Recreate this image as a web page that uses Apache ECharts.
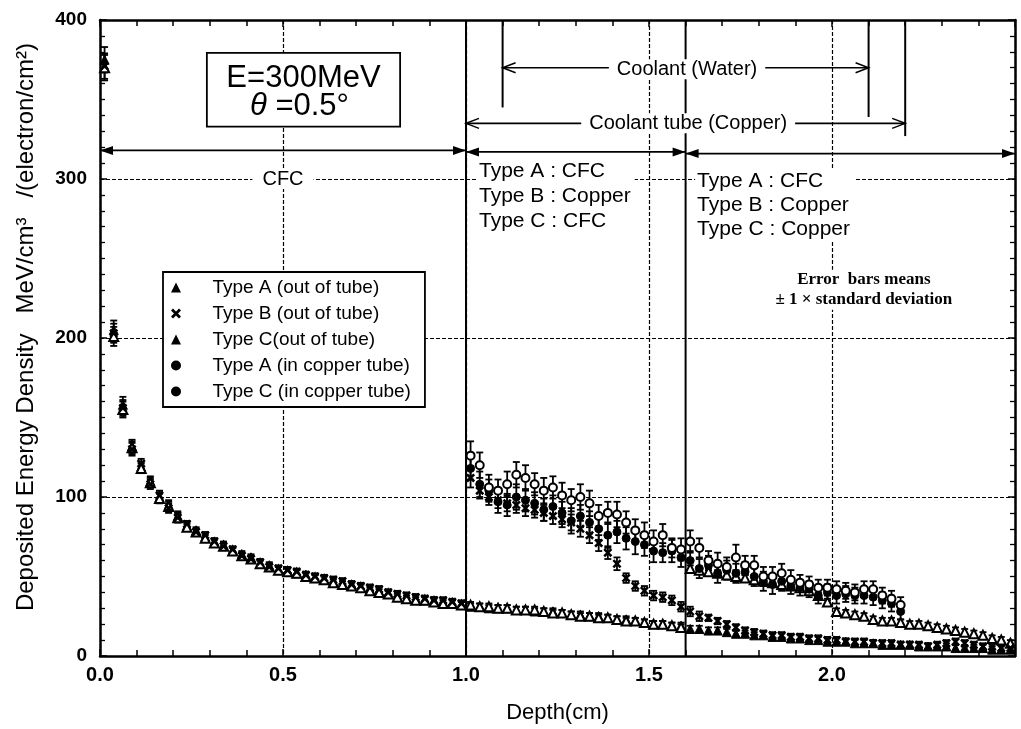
<!DOCTYPE html>
<html>
<head>
<meta charset="utf-8">
<script src="https://cdn.jsdelivr.net/npm/echarts@6/dist/echarts.min.js"></script>
<style>
html,body{margin:0;padding:0;background:#fff;}
#c{width:1021px;height:729px;}
</style>
</head>
<body>
<div id="c"></div>
<script>
// ---------- DATA ----------
const depth = [
0.0125,0.0375,0.0625,0.0875,0.1125,0.1375,0.1625,0.1875,0.2125,0.2375,
0.2625,0.2875,0.3125,0.3375,0.3625,0.3875,0.4125,0.4375,0.4625,0.4875,
0.5125,0.5375,0.5625,0.5875,0.6125,0.6375,0.6625,0.6875,0.7125,0.7375,
0.7625,0.7875,0.8125,0.8375,0.8625,0.8875,0.9125,0.9375,0.9625,0.9875,
1.0125,1.0375,1.0625,1.0875,1.1125,1.1375,1.1625,1.1875,1.2125,1.2375,
1.2625,1.2875,1.3125,1.3375,1.3625,1.3875,1.4125,1.4375,1.4625,1.4875,
1.5125,1.5375,1.5625,1.5875,1.6125,1.6375,1.6625,1.6875,1.7125,1.7375,
1.7625,1.7875,1.8125,1.8375,1.8625,1.8875,1.9125,1.9375,1.9625,1.9875,
2.0125,2.0375,2.0625,2.0875,2.1125,2.1375,2.1625,2.1875,2.2125,2.2375,
2.2625,2.2875,2.3125,2.3375,2.3625,2.3875,2.4125,2.4375,2.4625,2.4875];

const depthTube = [
1.0125,1.0375,1.0625,1.0875,1.1125,1.1375,1.1625,1.1875,1.2125,1.2375,
1.2625,1.2875,1.3125,1.3375,1.3625,1.3875,1.4125,1.4375,1.4625,1.4875,
1.5125,1.5375,1.5625,1.5875,1.6125,1.6375,1.6625,1.6875,1.7125,1.7375,
1.7625,1.7875,1.8125,1.8375,1.8625,1.8875,1.9125,1.9375,1.9625,1.9875,
2.0125,2.0375,2.0625,2.0875,2.1125,2.1375,2.1625,2.1875];

const typeAOut = [
375,205,158,132,119,110,100,95,88,82,
79,75,72,70,66,64,62,58,57,54,
53,52,51,49,48,47,46,45,43,42,
41,39,38,36,36,35,35,34,33,32,
31,31,30,30,30,29,29,28,28,28,
27,26,26,25,25,24,23,23,22,21,
20,20,19,19,17,17,16,16,15,14,
14,13,13,12,12,11,11,10,10,9,
9,9,8,8,8,7,7,7,7,6,
6,6,6,5,5,5,5,4,4,4];

const typeBOut = [
371,203,156,130,121,108,101,93,87,83,
78,76,72,69,67,63,61,59,56,55,
54,53,51,50,49,48,47,45,44,43,
42,40,39,38,37,36,35,35,34,33,
112,104,100,98,96,95,93,92,90,88,
86,84,80,76,71,65,58,49,44,41,
38,37,35,31,28,25,24,22,20,18,
16,15,14,13,13,12,12,11,11,10,
10,9,9,9,8,8,8,7,7,7,
6,7,8,9,8,7,6,6,5,5];

const typeCOut = [
370,201,155,131,118,109,99,94,87,81,
78,74,71,69,66,63,61,58,56,54,
53,52,50,49,48,46,45,44,43,41,
40,39,37,36,35,35,34,33,33,32,
32,31,31,30,30,29,29,29,28,27,
27,26,25,25,24,24,23,22,22,21,
20,20,19,18,55,54,53,52,51,50,
49,48,47,46,45,44,43,41,38,34,
28,27,26,25,23,22,22,21,20,20,
19,18,17,16,15,14,13,11,10,8];

const typeATube = [
118,108,104,97,95,100,98,96,92,94,
90,85,88,84,80,76,78,74,72,70,
66,65,66,62,60,55,57,52,54,52,
53,50,47,45,47,44,43,42,38,40,
38,39,38,38,37,35,33,28];

const typeCTube = [
126,120,106,104,108,114,112,108,104,106,
101,98,100,96,88,90,89,84,79,76,
72,76,68,67,72,68,60,58,56,62,
57,57,50,50,52,48,46,45,43,43,
42,41,40,42,42,38,36,32];

// error (±1 standard deviation)
const errOutCFC = [
8,6,5,4,3,3,3,3,3,2,
2,2,2,2,2,2,2,2,2,2,
2,2,2,2,2,2,2,2,2,2,
2,2,2,2,2,2,2,2,2,2,
2,2,2,2,2,2,2,2,2,2,
2,2,2,2,2,2,2,2,2,2,
2,2,2,2,2,2,2,2,2,2,
2,2,2,2,2,2,2,2,2,2,
2,2,2,2,2,2,2,2,2,2,
2,2,2,2,2,2,2,2,2,2];

const errBOut = [
8,6,5,4,3,3,3,3,3,2,
2,2,2,2,2,2,2,2,2,2,
2,2,2,2,2,2,2,2,2,2,
2,2,2,2,2,2,2,2,2,2,
6,5,5,5,5,5,5,5,5,5,
5,5,5,5,5,4,4,3,3,3,
3,3,3,3,3,3,2,2,2,2,
2,2,2,2,2,2,2,2,2,2,
2,2,2,2,2,2,2,2,2,2,
2,2,2,2,2,2,2,2,2,2];

const errATube = [
7,8,7,7,7,8,7,7,7,7,
7,8,7,7,7,8,7,7,8,7,
7,6,7,6,6,6,6,6,6,6,
6,6,6,6,6,5,5,5,5,5,
5,5,5,5,5,5,5,5];

const errCTube = [
9,8,8,7,8,8,8,7,8,7,
8,7,8,8,7,7,8,7,7,8,
7,7,6,7,7,6,6,7,6,8,
6,6,6,6,6,6,5,5,5,5,
5,5,5,5,5,5,5,5];

const seriesNames = ['Type A (out of tube)','Type B (out of tube)','Type C(out of tube)','Type A (in copper tube)','Type C (in copper tube)'];
const xTicks = [0, 0.5, 1.0, 1.5, 2.0];
const yTicks = [0, 100, 200, 300, 400];

// ---------- CHART ----------
const FONT = "'Liberation Sans', Arial, Helvetica, sans-serif";
const crossPath = 'path://M0,2 L2,0 L5,3 L8,0 L10,2 L7,5 L10,8 L8,10 L5,7 L2,10 L0,8 L3,5 Z';

function pts(xs, ys){ return xs.map((d,i)=>[d, ys[i]]); }
function errPts(xs, ys, es){ return xs.map((d,i)=>[d, ys[i], es[i]]); }

function errRender(params, api){
  const x = api.value(0), v = api.value(1), e = api.value(2);
  const t = api.coord([x, v + e]), b = api.coord([x, v - e]);
  const w = 3.5, st = {stroke:'#000', lineWidth:1.8};
  return {type:'group', children:[
    {type:'line', shape:{x1:t[0],y1:t[1],x2:b[0],y2:b[1]}, style:st},
    {type:'line', shape:{x1:t[0]-w,y1:t[1],x2:t[0]+w,y2:t[1]}, style:st},
    {type:'line', shape:{x1:b[0]-w,y1:b[1],x2:b[0]+w,y2:b[1]}, style:st}
  ]};
}
function errSeries(name, data){
  return {type:'custom', name:name, renderItem:errRender, data:data, encode:{x:0,y:1}, z:1, silent:true};
}

const axisCommonX = {
  type:'value', min:0, max:2.5, interval:0.5,
  axisLine:{show:true, onZero:false, lineStyle:{color:'#000', width:2.5}},
  axisTick:{show:true, inside:true, length:7, lineStyle:{color:'#000', width:1.5}},
  minorTick:{show:true, splitNumber:5, length:6, lineStyle:{color:'#000', width:1.5}}
};
const axisCommonY = {
  type:'value', min:0, max:400, interval:100,
  axisLine:{show:true, onZero:false, lineStyle:{color:'#000', width:2.5}},
  axisTick:{show:true, inside:true, length:7, lineStyle:{color:'#000', width:1.5}},
  minorTick:{show:true, splitNumber:10, length:5, lineStyle:{color:'#000', width:1.3}}
};

const option = {
  animation:false,
  backgroundColor:'#fff',
  grid:{left:100, right:6, top:20, bottom:71},
  xAxis:[
    Object.assign({}, axisCommonX, {
      position:'bottom',
      name:'Depth(cm)', nameLocation:'middle', nameGap:46,
      nameTextStyle:{fontFamily:FONT, fontSize:22, color:'#000'},
      axisLabel:{show:true, margin:9, color:'#000', fontFamily:FONT, fontSize:20, fontWeight:'bold',
        formatter:function(v){ return xTicks.indexOf(v) >= 0 ? v.toFixed(1) : ''; }},
      splitLine:{show:true, lineStyle:{color:'#000', width:1.2, type:[4,2]}}
    }),
    Object.assign({}, axisCommonX, {
      position:'top', axisLabel:{show:false}, splitLine:{show:false}
    })
  ],
  yAxis:[
    Object.assign({}, axisCommonY, {
      position:'left',
      axisLabel:{show:true, margin:13, color:'#000', fontFamily:FONT, fontSize:19, fontWeight:'bold',
        formatter:function(v){ return yTicks.indexOf(v) >= 0 ? String(v) : ''; }},
      splitLine:{show:true, lineStyle:{color:'#000', width:1.2, type:[4,2]}}
    }),
    Object.assign({}, axisCommonY, {
      position:'right', axisLabel:{show:false}, splitLine:{show:false}
    })
  ],
  legend:{
    orient:'vertical', left:163, top:272,
    backgroundColor:'#fff', borderColor:'#000', borderWidth:1.8, borderRadius:0,
    padding:[6,14,6,8], itemGap:7, itemWidth:10, itemHeight:10,
    textStyle:{fontFamily:FONT, fontSize:19, color:'#000', lineHeight:19},
    formatter:function(n){ return '     ' + n; },
    data:[
      {name:seriesNames[0], icon:'triangle', itemStyle:{color:'#000', borderWidth:0, opacity:1}},
      {name:seriesNames[1], icon:crossPath, itemStyle:{color:'#000', borderWidth:0, opacity:1}},
      {name:seriesNames[2], icon:'triangle', itemStyle:{color:'#000', borderWidth:0, opacity:1}},
      {name:seriesNames[3], icon:'circle', itemStyle:{color:'#000', borderWidth:0, opacity:1}},
      {name:seriesNames[4], icon:'circle', itemStyle:{color:'#000', borderWidth:0, opacity:1}}
    ]
  },
  series:[
    errSeries('errA', errPts(depth, typeAOut, errOutCFC)),
    errSeries('errC', errPts(depth, typeCOut, errOutCFC)),
    errSeries('errB', errPts(depth, typeBOut, errBOut)),
    errSeries('errAT', errPts(depthTube, typeATube, errATube)),
    errSeries('errCT', errPts(depthTube, typeCTube, errCTube)),
    {type:'scatter', name:seriesNames[0], data:pts(depth, typeAOut), symbol:'triangle', symbolSize:9,
      itemStyle:{color:'#000', borderColor:'#000', borderWidth:1, opacity:1}, z:3},
    {type:'scatter', name:seriesNames[2], data:pts(depth, typeCOut), symbol:'triangle', symbolSize:9,
      itemStyle:{color:'#fff', borderColor:'#000', borderWidth:2, opacity:1}, z:3},
    {type:'scatter', name:seriesNames[1], data:pts(depth, typeBOut), symbol:crossPath, symbolSize:9,
      itemStyle:{color:'#000', opacity:1}, z:4},
    {type:'scatter', name:seriesNames[3], data:pts(depthTube, typeATube), symbol:'circle', symbolSize:8,
      itemStyle:{color:'#000', borderColor:'#000', borderWidth:1, opacity:1}, z:5},
    {type:'scatter', name:seriesNames[4], data:pts(depthTube, typeCTube), symbol:'circle', symbolSize:8,
      itemStyle:{color:'#fff', borderColor:'#000', borderWidth:2, opacity:1}, z:5}
  ]
};

const chart = echarts.init(document.getElementById('c'), null, {renderer:'canvas'});
chart.setOption(option);

// ---------- ANNOTATIONS (anchored to data coordinates) ----------
const P = (x, y) => chart.convertToPixel({xAxisIndex:0, yAxisIndex:0}, [x, y]);
const fullLines = [1.0, 1.6];                       // region boundaries
const shortLines = [[1.1, 345], [2.1, 339], [2.2, 327]]; // coolant boundaries
const regionArrows = [[0, 1.0, 318], [1.0, 1.6, 317], [1.6, 2.5, 316]];
const coolantArrows = [[1.1, 2.1, 370], [1.0, 2.2, 335]];

const g = [];
function L(a, b, w, z){ g.push({type:'line', z:z||8, shape:{x1:a[0],y1:a[1],x2:b[0],y2:b[1]}, style:{stroke:'#000', lineWidth:w}}); }
function headFilled(p, dir){
  g.push({type:'polygon', z:9, shape:{points:[[p[0],p[1]],[p[0]-dir*13,p[1]-4.5],[p[0]-dir*13,p[1]+4.5]]}, style:{fill:'#000'}});
}
function chevron(p, dir){
  g.push({type:'polyline', z:9, shape:{points:[[p[0]-dir*13,p[1]-5],[p[0],p[1]],[p[0]-dir*13,p[1]+5]]}, style:{stroke:'#000', lineWidth:1.5, fill:null}});
}
function T(x, y, text, opt){
  const p = P(x, y);
  g.push({type:'text', z:12, x:p[0], y:p[1], style:Object.assign({text:text, fill:'#000', font:'20px ' + FONT,
    align:'center', verticalAlign:'middle', backgroundColor:'#fff'}, opt||{})});
}

fullLines.forEach(x => L(P(x, 0), P(x, 400), 2, 1));
shortLines.forEach(s => L(P(s[0], 400), P(s[0], s[1]), 2, 8));
regionArrows.forEach(a => {
  const p1 = P(a[0], a[2]), p2 = P(a[1], a[2]);
  L(p1, p2, 1.8, 8); headFilled(p1, -1); headFilled(p2, 1);
});
coolantArrows.forEach(a => {
  const p1 = P(a[0], a[2]), p2 = P(a[1], a[2]);
  L(p1, p2, 1.6, 8); chevron(p1, -1); chevron(p2, 1);
});

// energy / angle box
const b1 = P(0.292, 379.3), b2 = P(0.820, 333);
g.push({type:'rect', z:10, shape:{x:b1[0], y:b1[1], width:b2[0]-b1[0], height:b2[1]-b1[1]}, style:{fill:'#fff', stroke:'#000', lineWidth:1.8}});
T(0.556, 363.5, 'E=300MeV', {font:'31px ' + FONT, backgroundColor:null});
T(0.545, 345.5, '{i|θ} =0.5°', {font:'31px ' + FONT, backgroundColor:null,
  rich:{i:{font:'italic 31px ' + FONT}}});

T(0.5, 300, 'CFC', {padding:[0,10]});
T(1.604, 369, 'Coolant (Water)', {font:'20px ' + FONT, padding:[0,8]});
T(1.607, 335, 'Coolant tube (Copper)', {font:'20px ' + FONT, padding:[0,8]});
T(1.030, 312.5, 'Type A : CFC\nType B : Copper\nType C : CFC',
  {font:'21px ' + FONT, align:'left', verticalAlign:'top', lineHeight:25, padding:[0,4,0,2]});
T(1.626, 306.3, 'Type A : CFC\nType B : Copper\nType C : Copper',
  {font:'21px ' + FONT, align:'left', verticalAlign:'top', lineHeight:24, padding:[0,4,0,2]});
T(2.087, 243, 'Error  bars means\n± 1 × standard deviation',
  {font:'bold 17px "Liberation Serif", "Times New Roman", serif', verticalAlign:'top', lineHeight:20, padding:[0,2]});

// y-axis title
g.push({type:'text', z:12, x:26, y:327, rotation:Math.PI/2,
  style:{text:'Deposited Energy Density   MeV/cm³   /(electron/cm²)', fill:'#000', font:'24px ' + FONT,
    align:'center', verticalAlign:'middle'}});

chart.setOption({graphic:{elements:g}});
</script>
</body>
</html>
